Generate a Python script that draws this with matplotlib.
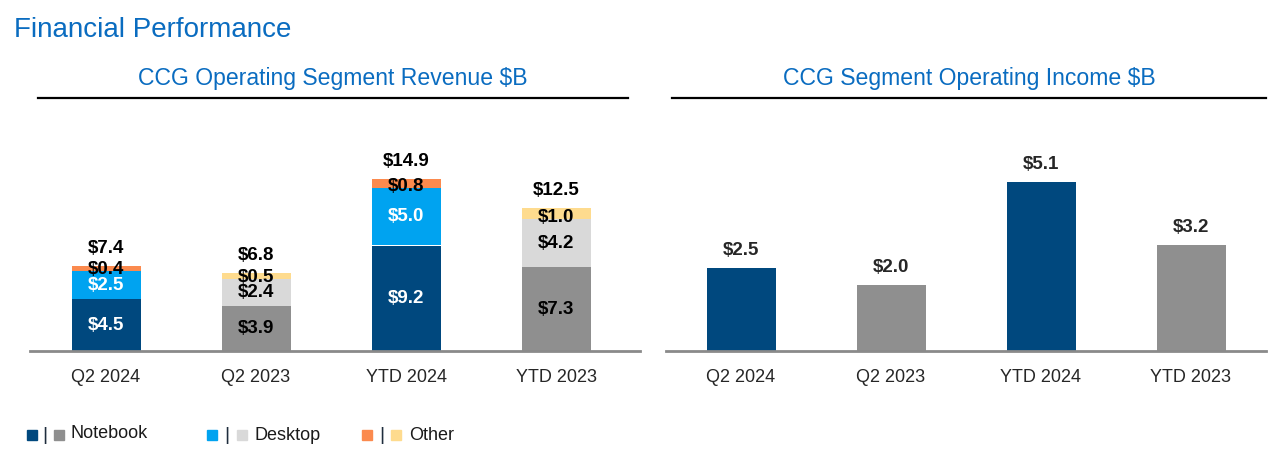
import matplotlib
matplotlib.use("Agg")
import matplotlib.pyplot as plt
from matplotlib.lines import Line2D

plt.rcParams['font.family'] = ['Liberation Sans', 'DejaVu Sans']

# data
periods = ['Q2 2024', 'Q2 2023', 'YTD 2024', 'YTD 2023']
notebook = [4.5, 3.9, 9.2, 7.3]
desktop = [2.5, 2.4, 5.0, 4.2]
other = [0.4, 0.5, 0.8, 1.0]
revenue_total = [7.4, 6.8, 14.9, 12.5]
op_income = [2.5, 2.0, 5.1, 3.2]

NAVY = '#00487e'
GRAY = '#8f8f8f'
BLUE = '#00a3f0'
LGRAY = '#d9d9d9'
ORANGE = '#fb8a4e'
YELLOW = '#fedb8e'
TITLE_BLUE = '#0a6cc0'

cur = [0, 2]  # current-year bars use the saturated palette
nb_colors = [NAVY if i in cur else GRAY for i in range(4)]
dt_colors = [BLUE if i in cur else LGRAY for i in range(4)]
ot_colors = [ORANGE if i in cur else YELLOW for i in range(4)]

W, H = 1280, 462
fig = plt.figure(figsize=(12.8, 4.62), dpi=100)


def fx(px):
    return px / W


def fy(py):
    return 1 - py / H


def style_axes(ax):
    for s in ['top', 'left', 'right']:
        ax.spines[s].set_visible(False)
    ax.spines['bottom'].set_color('#8a8a8a')
    ax.spines['bottom'].set_linewidth(2)
    ax.set_yticks([])
    ax.set_xticks(range(len(periods)))
    ax.set_xticklabels(periods, fontsize=13, color='#262626')
    ax.tick_params(axis='x', length=0, pad=13)


VAL = dict(ha='center', va='center', fontsize=13.5, fontweight='bold')

# left: revenue stack
ax1 = fig.add_axes([fx(30), 1 - 351 / H, fx(610), 211 / H])
x = range(len(periods))
w = 0.46
ax1.bar(x, notebook, w, color=nb_colors)
ax1.bar(x, desktop, w, bottom=notebook, color=dt_colors)
base2 = [a + b for a, b in zip(notebook, desktop)]
ax1.bar(x, other, w, bottom=base2, color=ot_colors)
ax1.set_xlim(-0.507, 3.56)
ax1.set_ylim(0, 18.4)
style_axes(ax1)

for i in x:
    c = 'white' if i in cur else 'black'
    ax1.text(i, notebook[i] / 2, f'${notebook[i]:.1f}', color=c, **VAL)
    ax1.text(i, notebook[i] + desktop[i] / 2, f'${desktop[i]:.1f}', color=c, **VAL)
    ax1.text(i, base2[i] + 0.12, f'${other[i]:.1f}', color='black', **VAL)
    ax1.annotate(f'${revenue_total[i]:.1f}', (i, base2[i] + other[i]), xytext=(0, 12.5),
                 textcoords='offset points', color='black', **VAL)

# right: operating income
ax2 = fig.add_axes([fx(666), 1 - 351 / H, fx(600), 211 / H])
ax2.bar(x, op_income, w, color=[NAVY, GRAY, NAVY, GRAY])
ax2.set_xlim(-0.5, 3.5)
ax2.set_ylim(0, 6.36)
style_axes(ax2)
for i in x:
    ax2.annotate(f'${op_income[i]:.1f}', (i, op_income[i]), xytext=(0, 12.5),
                 textcoords='offset points', color='#262626', **VAL)

# titles and rules
fig.text(fx(14), fy(30), 'Financial Performance', fontsize=20, color=TITLE_BLUE,
         ha='left', va='center')
fig.text(fx(333), fy(79), 'CCG Operating Segment Revenue $B', fontsize=16.6,
         color=TITLE_BLUE, ha='center', va='center')
fig.text(fx(969), fy(79), 'CCG Segment Operating Income $B', fontsize=16.6,
         color=TITLE_BLUE, ha='center', va='center')
fig.add_artist(Line2D([fx(38), fx(628)], [fy(98), fy(98)], color='black', lw=1.6))
fig.add_artist(Line2D([fx(672), fx(1266)], [fy(98), fy(98)], color='black', lw=1.6))

# legend
legend_items = [
    (32, NAVY, 45, 58.5, GRAY, 70, 'Notebook', 433),
    (212, BLUE, 227, 241.5, LGRAY, 254, 'Desktop', 435),
    (366.5, ORANGE, 382, 396, YELLOW, 409, 'Other', 435),
]
for xa, ca, xbar, xb, cb, xt, label, yt in legend_items:
    fig.add_artist(Line2D([fx(xa)], [fy(435)], marker='s', ms=6.5, color=ca, lw=0))
    fig.text(fx(xbar), fy(435), '|', fontsize=14, color='#1f2d3d', ha='center', va='center')
    fig.add_artist(Line2D([fx(xb)], [fy(435)], marker='s', ms=6.5, color=cb, lw=0))
    fig.text(fx(xt), fy(yt), label, fontsize=13, color='#1a1a1a', ha='left', va='center')

fig.savefig('out.png', dpi=100)
